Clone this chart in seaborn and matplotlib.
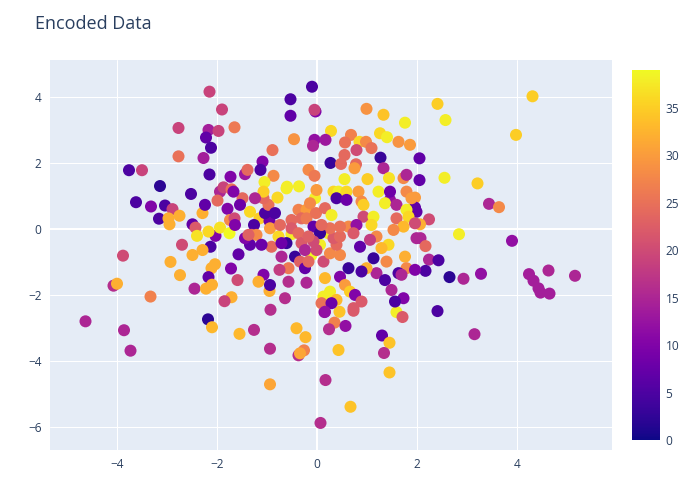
import numpy as np
import matplotlib
matplotlib.use("Agg")
import matplotlib.pyplot as plt
import seaborn as sns

# ---- data (x, y and encoded colour value) ----
x_vals = [
    # upper part
    -2.15, -1.90, -1.65, -2.77, -2.17, -1.97, -2.22, -2.12, -2.77, -2.27,
    -3.76, -3.50, -2.15, -1.73, -3.14, -2.52, -1.94, -1.87, -1.71, -0.10,
    -0.53, -0.53, -0.03, -0.05, 0.99, 1.33, 1.76, 0.28, -0.46, 1.26,
    1.40, 0.68, 0.85, 0.56, 0.98, 1.09, 1.63, 1.86, -0.05, -0.08,
    0.17, -0.89, 0.79, 0.55, -1.09, -1.13, 0.27, 0.48, 1.27, 0.78,
    0.75, 1.33, 2.05, -0.17, -0.05, -1.44, -1.39, -0.87, -1.05, -0.60,
    -0.36, 0.55, 1.01, 1.44, 1.73, 1.79, 2.05, 2.41, 4.31, 2.57,
    3.98, 2.55, 3.21,
    # left part
    -3.62, -3.32, -3.04, -2.89, -3.16, -2.97, -2.75, -2.95, -2.29, -2.24,
    -1.99, -1.79, -2.49, -2.43, -2.03, -2.17, -2.40, -1.94, -1.75, -1.74,
    -1.65, -2.70, -2.13, -2.29, -2.49, -3.88, -2.93, -2.74, -2.04, -2.11,
    -1.72, -1.57, -2.17, -4.07, -4.00, -2.45, -2.22, -2.10, -1.59, -3.33,
    -1.71, -1.85, -4.63, -2.18, -3.86, -3.73, -2.10, -1.55,
    # right part
    3.44, 3.64, 2.84, 3.90, 2.07, 2.17, 2.24, 2.43, 2.17, 2.65,
    2.93, 3.28, 4.24, 4.33, 4.43, 4.47, 4.65, 4.63, 5.16, 2.41,
    1.96, 1.86, 2.24, 2.06, 1.96, 3.15,
    # lower part
    -0.93, -1.26, -0.41, -0.23, -0.94, -0.37, -0.26, -0.34, 0.15, 0.45,
    0.73, 0.35, 0.24, 0.57, 0.43, 1.30, 1.45, 1.34, 1.59, 1.71,
    1.45, -0.94, 0.17, 0.67, 0.07,
    # centre
    -1.49, -1.34, -1.15, -1.26, -1.31, -1.21, -0.95, -1.04, -0.97, -1.07,
    -1.07, -0.79, -0.61, -0.94, -0.77, -0.51, -0.61, -0.91, -0.71, -0.44,
    -0.34, -0.24, -0.57, -0.75, -0.57, -1.07, -1.17, -0.95, -0.94, -0.64,
    -0.21, -1.34, -1.44, -1.37, -0.51, -0.37, -0.21, -0.31, -0.21, -0.07,
    -0.04, -0.01, -0.14, -0.02, 0.16, 0.29, 0.23, 0.06, -0.11, -0.17,
    0.13, 0.26, 0.46, 0.39, 0.33, 0.46, 0.26, 0.06, -0.07, 0.09,
    0.63, 0.46, 0.33, 0.43, 0.59, 0.39, 0.59, 0.83, 0.89, 0.93,
    0.93, 0.79, 0.73, 1.13, 1.09, 1.23, 1.46, 1.36, 1.59, 1.46,
    1.79, 1.89, 1.99, 1.79, 1.83, 1.59, 1.73, 1.96, 1.53, 1.19,
    1.06, 0.86, 1.13, 1.43, 1.29, 1.76, 1.79, 1.39, 1.19, 0.99,
    0.89, 1.36, 1.63, 1.69, 1.99, 1.96, 1.49, 1.73, 1.56, 0.63,
    0.46, 0.56, 0.66, 0.76, 0.89, 0.73, 0.16, 0.26, 0.13, 0.39,
    0.09, 0.29, 0.16, -1.67, -1.64, -1.24, -0.84, -0.74, -0.51, -0.37,
    -0.31, -0.17, -0.24, -0.01, -0.71, -1.11, -1.54,
]

y_vals = [
    # upper part
    4.16, 3.62, 3.08, 3.06, 3.00, 2.97, 2.77, 2.46, 2.20, 2.15,
    1.78, 1.78, 1.65, 1.58, 1.30, 1.06, 1.13, 1.26, 1.20, 4.31,
    3.93, 3.43, 3.56, 3.61, 3.64, 3.46, 3.22, 2.97, 2.72, 2.90,
    2.78, 2.85, 2.64, 2.62, 2.64, 2.45, 2.64, 2.55, 2.70, 2.52,
    2.70, 2.39, 2.39, 2.24, 2.04, 1.79, 2.00, 1.97, 2.16, 1.96,
    1.84, 1.84, 2.14, 1.79, 1.61, 1.66, 1.79, 1.61, 1.42, 1.28,
    1.29, 1.51, 1.51, 1.54, 1.54, 1.64, 1.48, 3.79, 4.02, 3.30,
    2.85, 1.55, 1.38,
    # left part
    0.81, 0.68, 0.71, 0.60, 0.31, 0.32, 0.40, 0.14, 0.48, 0.73,
    0.86, 0.61, 0.14, 0.04, -0.21, -0.08, -0.21, 0.04, -0.13, 0.27,
    0.32, -0.48, -0.54, -0.64, -0.79, -0.81, -1.00, -1.40, -1.07, -1.19,
    -1.20, -0.77, -1.46, -1.72, -1.66, -1.81, -1.81, -1.69, -1.55, -2.05,
    -2.07, -2.19, -2.80, -2.74, -3.07, -3.69, -2.98, -3.18,
    # right part
    0.76, 0.66, -0.16, -0.36, -0.28, -0.52, -0.93, -0.95, -1.27, -1.46,
    -1.51, -1.36, -1.37, -1.57, -1.80, -1.93, -1.96, -1.26, -1.42, -2.49,
    0.95, 0.58, 0.29, 0.14, 0.65, -3.19,
    # lower part
    -2.45, -3.06, -3.01, -3.28, -3.63, -3.83, -3.68, -3.77, -2.52, -2.51,
    -2.48, -2.84, -3.04, -2.94, -3.67, -3.23, -3.45, -3.76, -2.52, -2.67,
    -4.35, -4.71, -4.58, -5.39, -5.88,
    # centre
    0.93, 0.52, 0.32, 0.12, -0.18, -0.18, 0.24, 0.48, 0.73, 0.93,
    1.13, 0.95, 1.23, 0.02, -0.23, -0.16, -0.43, -0.54, -0.84, -0.84,
    -0.99, -1.19, -1.19, -1.24, -1.60, -1.39, -1.60, -1.88, -1.70, -2.10,
    -1.63, -0.48, -0.28, -0.18, 0.27, 0.58, 0.58, 0.32, 0.32, 0.07,
    0.93, 1.18, 0.78, 0.48, 0.63, 0.42, -0.13, -0.48, -0.79, -0.99,
    -0.99, -0.74, -0.79, -0.48, -0.28, -0.23, 0.02, -0.13, -0.38, 0.12,
    0.07, 0.07, 1.13, 1.13, 1.13, 0.93, 0.88, 1.13, 0.83, 0.73,
    0.37, 0.12, -0.13, 0.37, 0.12, 1.13, 0.88, 0.78, 0.73, 1.13,
    1.13, 0.93, 0.52, 0.58, 0.37, 0.32, 0.07, 0.17, -0.03, -0.23,
    -0.33, -0.54, -0.89, -0.48, -0.58, -0.84, -1.19, -0.99, -1.34, -1.19,
    -1.29, -1.55, -1.34, -1.39, -0.28, -1.24, -1.85, -2.10, -2.20, -1.19,
    -1.45, -1.70, -1.90, -2.00, -2.20, -2.40, -1.49, -1.90, -2.05, -2.15,
    -2.25, -2.25, -2.51, 1.13, 0.12, 0.93, 0.48, 0.12, 0.02, -0.13,
    -0.43, -0.23, -0.64, -0.64, -0.43, -0.48, 0.73,
]

encoded = [
    # upper part
    19, 19, 26, 19, 14, 19, 7, 5, 25, 14,
    5, 19, 5, 10, 2, 5, 15, 19, 25, 5,
    5, 7, 10, 19, 29, 34, 38, 36, 29, 36,
    38, 27, 36, 25, 28, 25, 29, 30, 12, 15,
    13, 25, 20, 24, 10, 5, 3, 24, 3, 24,
    30, 15, 7, 28, 26, 13, 24, 28, 38, 38,
    38, 38, 35, 37, 28, 15, 7, 35, 35, 38,
    35, 38, 35,
    # left part
    5, 10, 5, 19, 5, 32, 32, 32, 32, 7,
    24, 10, 7, 22, 10, 36, 37, 37, 39, 28,
    20, 20, 5, 32, 32, 20, 32, 32, 32, 32,
    10, 7, 7, 16, 32, 15, 32, 32, 20, 27,
    32, 19, 15, 2, 15, 15, 33, 33,
    # right part
    15, 28, 38, 12, 15, 24, 15, 5, 5, 2,
    15, 12, 14, 14, 14, 14, 14, 15, 15, 5,
    30, 38, 20, 32, 7, 15,
    # lower part
    16, 16, 33, 33, 16, 16, 27, 31, 12, 34,
    22, 27, 16, 12, 34, 7, 34, 16, 38, 22,
    34, 31, 16, 34, 16,
    # centre
    24, 36, 35, 5, 24, 28, 8, 5, 25, 24,
    35, 36, 38, 30, 36, 38, 3, 24, 15, 3,
    23, 7, 26, 18, 16, 10, 32, 32, 5, 16,
    15, 7, 10, 23, 24, 27, 30, 24, 26, 7,
    38, 30, 28, 25, 24, 38, 38, 38, 39, 24,
    20, 28, 28, 24, 22, 24, 25, 3, 20, 24,
    28, 25, 36, 38, 36, 5, 8, 30, 28, 35,
    20, 12, 22, 38, 36, 38, 12, 38, 15, 8,
    28, 30, 7, 38, 36, 24, 33, 20, 28, 28,
    18, 7, 3, 36, 33, 32, 28, 28, 15, 32,
    5, 5, 5, 15, 15, 10, 15, 10, 5, 3,
    10, 30, 35, 10, 22, 22, 33, 38, 38, 33,
    25, 8, 12, 10, 10, 15, 5, 24, 22, 24,
    22, 23, 15, 20, 8, 8, 8,
]

x_ticks = [-4, -2, 0, 2, 4]
y_ticks = [-6, -4, -2, 0, 2, 4]
cbar_ticks = [0, 5, 10, 15, 20, 25, 30, 35]
c_min, c_max = 0, 39

# ---- styling (plotly-like) ----
sns.set_style("white")
plt.rcParams['font.family'] = ['Open Sans', 'DejaVu Sans']
text_col = '#2a3f5f'
px = 0.72  # one pixel in points at 100 dpi

fig = plt.figure(figsize=(7, 5), dpi=100)
ax = fig.add_axes([50 / 700, 50 / 500, 562 / 700, 390 / 500])
ax.set_facecolor('#E5ECF6')

sns.scatterplot(x=x_vals, y=y_vals, hue=encoded, palette='plasma',
                hue_norm=(c_min, c_max), s=75, linewidth=0,
                legend=False, ax=ax, zorder=3)

ax.set_xlim(-5.34, 5.9)
ax.set_ylim(-6.7, 5.12)
ax.set_xticks(x_ticks)
ax.set_yticks(y_ticks)
ax.grid(True, color='white', linewidth=px)
ax.axhline(0, color='white', linewidth=2 * px, zorder=1)
ax.axvline(0, color='white', linewidth=2 * px, zorder=1)
ax.set_axisbelow(True)
for s in ax.spines.values():
    s.set_visible(False)
ax.tick_params(length=0, labelsize=8.6, labelcolor=text_col, pad=6)
ax.set_xlabel('')
ax.set_ylabel('')

fig.text(35 / 700, 1 - 24 / 500, 'Encoded Data', fontsize=13,
         color=text_col, va='center', ha='left')

# colorbar
cax = fig.add_axes([632 / 700, 60 / 500, 28 / 700, 370 / 500])
sm = plt.cm.ScalarMappable(cmap='plasma',
                           norm=plt.Normalize(c_min, c_max))
cb = fig.colorbar(sm, cax=cax, ticks=cbar_ticks)
cb.outline.set_visible(False)
cax.tick_params(length=0, labelsize=8.6, labelcolor=text_col, pad=4)

fig.savefig('out.png', dpi=100)
